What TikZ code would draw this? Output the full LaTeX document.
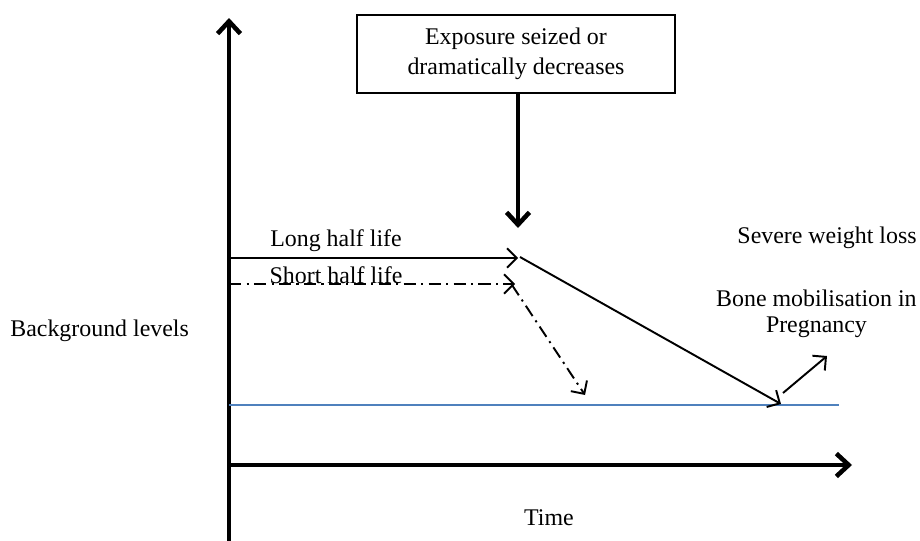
\documentclass[tikz,border=0pt]{standalone}
\usepackage{fontspec}
\setmainfont{Liberation Serif}
\usetikzlibrary{arrows.meta}
\definecolor{baseblue}{RGB}{79,129,189}
\tikzset{
  axis/.style={line width=2.6pt,-{Straight Barb[length=7pt,width=13pt,line width=2.6pt]}},
  thin arrow/.style={line width=1.1pt,-{Straight Barb[length=5.5pt,width=11pt,line width=1.1pt]}},
  dashdot/.style={dash pattern=on 7pt off 3pt on 1.2pt off 3pt},
  lbl/.style={font=\fontsize{13.6}{15}\selectfont, inner sep=0pt, align=center},
  box/.style={draw, line width=1pt, minimum width=318*0.02cm, minimum height=78*0.02cm, align=center, font=\fontsize{13.6}{17}\selectfont}
}
\begin{document}
\begin{tikzpicture}[x=0.02cm,y=-0.02cm]
\useasboundingbox (0,0) rectangle (920,541);
% axes
\coordinate (ybot) at (229,541);
\coordinate (ytop) at (229,18);
\coordinate (xl) at (229,465);
\coordinate (xr) at (852,465);
\draw[axis] (ybot) -- (ytop);
\draw[axis] (xl) -- (xr);
% baseline
\coordinate (bl) at (229,405);
\coordinate (br) at (839,405);
\draw[baseblue, line width=0.9pt] (bl) -- (br);
% box
\node[box] (exp) at (516,54) {Exposure seized or\\dramatically decreases};
\coordinate (exptip) at (518,228);
\draw[axis] (exp.south -| exptip) -- (exptip);
% long half life
\coordinate (l0) at (229,258);
\coordinate (l1) at (518,258);
\draw[thin arrow] (l0) -- (l1);
\coordinate (l2) at (520,257);
\coordinate (l3) at (781,404);
\draw[thin arrow] (l2) -- (l3);
% short half life
\coordinate (s0) at (229,284);
\coordinate (s1) at (515,284);
\draw[thin arrow, dashdot] (s0) -- (s1);
\coordinate (s2) at (512,285);
\coordinate (s3) at (585,395);
\draw[thin arrow, dashdot] (s2) -- (s3);
% rebound
\coordinate (r0) at (783,393);
\coordinate (r1) at (827,356);
\draw[thin arrow] (r0) -- (r1);
% labels
\node[lbl] (long) at (336,241) {Long half life};
\node[lbl] (short) at (336,275) {Short half life};
\node[lbl, anchor=west] (bg) at (10,331) {Background levels};
\node[lbl] (time) at (549,518) {Time};
\node[lbl, anchor=east] (sev) at (917,238) {Severe weight loss};
\node[lbl, anchor=east] (bone) at (917,314) {Bone mobilisation in\\Pregnancy};
\end{tikzpicture}
\end{document}
